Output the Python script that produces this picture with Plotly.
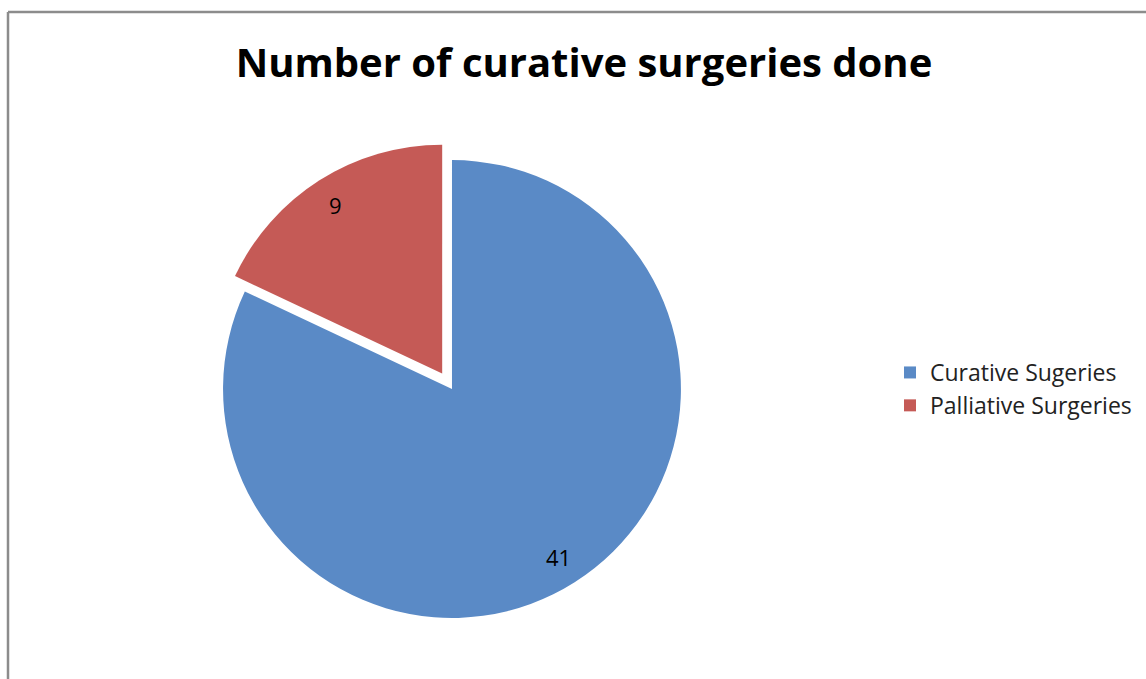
import math
import plotly.graph_objects as go

categories = ["Curative Sugeries", "Palliative Surgeries"]
values = [41, 9]
colors = ["#5A8AC6", "#C55A56"]
pulls = [0, 0.08]
title_text = "Number of curative surgeries done"

W, H = 1146, 679
dom_x = [0.1786, 0.6102]
dom_y = [0.0629, 0.7912]

fig = go.Figure(go.Pie(
    labels=categories,
    values=values,
    sort=False,
    direction="clockwise",
    rotation=0,
    pull=pulls,
    marker=dict(colors=colors, line=dict(width=0)),
    textinfo="none",
    domain=dict(x=dom_x, y=dom_y),
    hoverinfo="label+value",
))

# value labels placed at each slice's mid-angle, near the rim (like the original)
cx = (dom_x[0] + dom_x[1]) / 2 * W
cy = (dom_y[0] + dom_y[1]) / 2 * H
r = min((dom_x[1] - dom_x[0]) * W, (dom_y[1] - dom_y[0]) * H) / (2 * (1 + max(pulls)))
total = sum(values)
annotations = []
cum = 0
for v, p in zip(values, pulls):
    mid = (cum + v / 2) / total * 2 * math.pi
    cum += v
    d = (0.87 + p) * r
    px = cx + d * math.sin(mid)
    py = cy + d * math.cos(mid)
    annotations.append(dict(
        x=px / W, y=py / H, xref="paper", yref="paper",
        text=str(v), showarrow=False,
        xanchor="center", yanchor="middle",
        font=dict(family="Open Sans", size=22, color="black"),
    ))

fig.update_layout(
    width=W, height=H,
    margin=dict(l=0, r=0, t=0, b=0),
    paper_bgcolor="white",
    plot_bgcolor="white",
    title=dict(
        text="<b>" + title_text + "</b>",
        x=584 / W, xanchor="center",
        y=1 - 63 / H, yanchor="middle",
        font=dict(family="Open Sans", size=40, color="black"),
    ),
    legend=dict(
        x=890 / W, xanchor="left",
        y=1 - 389 / H, yanchor="middle",
        font=dict(family="Open Sans", size=23, color="#222222"),
        bgcolor="rgba(0,0,0,0)",
    ),
    annotations=annotations,
    shapes=[
        dict(type="line", xref="paper", yref="paper",
             x0=8 / W, x1=1.01, y0=1 - 12 / H, y1=1 - 12 / H,
             line=dict(color="#8C8C8C", width=2.5)),
        dict(type="line", xref="paper", yref="paper",
             x0=8 / W, x1=8 / W, y0=-0.01, y1=1 - 12 / H,
             line=dict(color="#8C8C8C", width=2.5)),
    ],
)

fig.write_html("out.html", config={"displayModeBar": False},
               post_script="document.body.style.margin='0';")
